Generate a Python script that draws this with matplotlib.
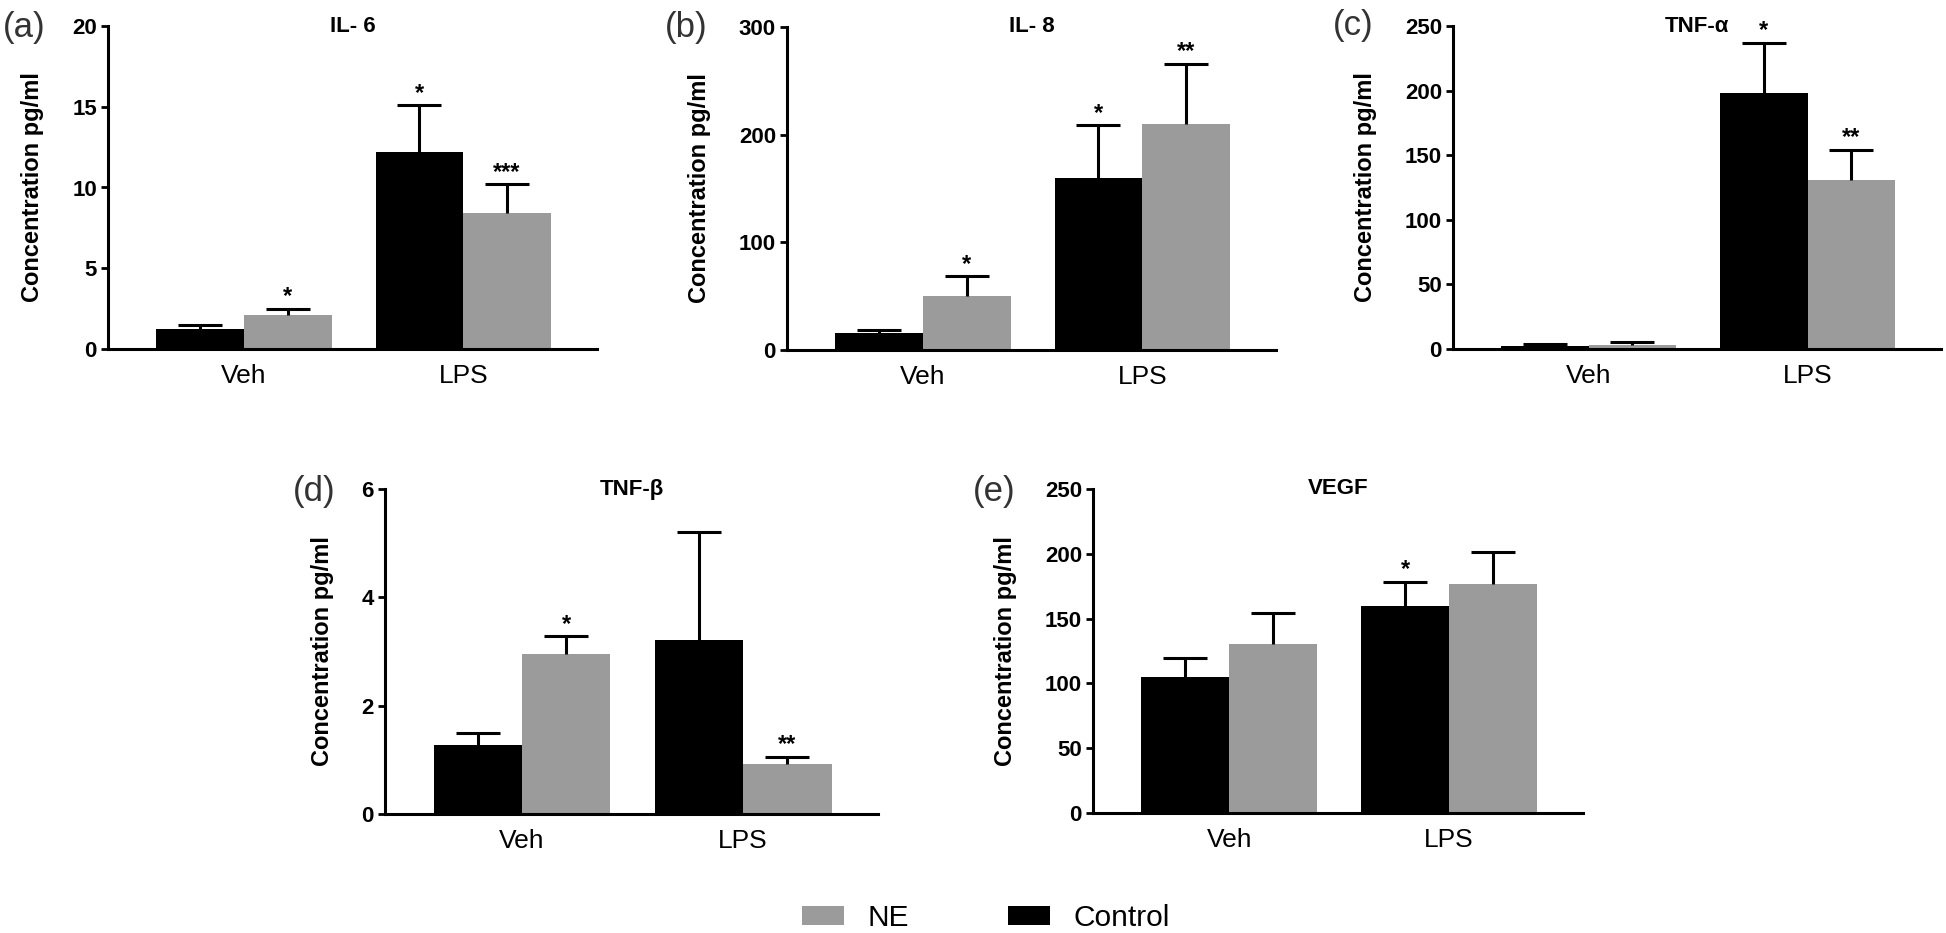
import matplotlib
matplotlib.use('Agg')
import matplotlib.pyplot as plt
import numpy as np

plt.rcParams['font.family'] = ['Liberation Sans', 'DejaVu Sans']

# data
groups = ['Veh', 'LPS']
titles = ['IL- 6', 'IL- 8', 'TNF-α', 'TNF-β', 'VEGF']
panel_tags = ['(a)', '(b)', '(c)', '(d)', '(e)']

ctrl_mean = [[1.24, 12.2], [15.5, 160.2], [2.5, 197.9], [1.28, 3.22], [104.9, 160.0]]
ctrl_err = [[0.23, 2.9], [2.7, 48.6], [1.5, 39.0], [0.21, 1.99], [14.7, 18.2]]
ne_mean = [[2.1, 8.44], [50.4, 210.3], [3.3, 130.7], [2.96, 0.93], [130.4, 176.7]]
ne_err = [[0.4, 1.76], [18.0, 55.7], [2.0, 23.3], [0.32, 0.13], [24.2, 24.7]]
ctrl_stars = [['', '*'], ['', '*'], ['', '*'], ['', ''], ['', '*']]
ne_stars = [['*', '***'], ['*', '**'], ['', '**'], ['*', '**'], ['', '']]

ytop = [20, 300, 250, 6, 250]
ystep = [5, 100, 50, 2, 50]

gray = '#9b9b9b'
W, H = 1946, 933
# axes boxes in pixels: left, top, right, bottom
boxes = [(108, 26, 597, 349), (787, 27, 1276, 350), (1453, 26, 1941, 349),
         (385, 489, 878, 814), (1093, 489, 1583, 813)]
tag_pos = [(3, 27), (665, 27), (1333, 26), (293, 492), (973, 491)]

fig = plt.figure(figsize=(W / 100, H / 100), dpi=100)

x = np.arange(len(groups))
w = 0.4
for i in range(5):
    l, t, r, b = boxes[i]
    ax = fig.add_axes([l / W, 1 - b / H, (r - l) / W, (b - t) / H])
    bc = ax.bar(x - w / 2, ctrl_mean[i], w, color='black', label='Control')
    bn = ax.bar(x + w / 2, ne_mean[i], w, color=gray, label='NE')
    for xs, m, e in [(x - w / 2, ctrl_mean[i], ctrl_err[i]), (x + w / 2, ne_mean[i], ne_err[i])]:
        eb = ax.errorbar(xs, m, yerr=[np.zeros(len(e)), e], fmt='none', ecolor='black',
                         elinewidth=2.2, capsize=15.5, capthick=2.2, clip_on=False)
        # only the upper cap is drawn in the original
        eb[1][0].set_visible(False)
    for xs, m, e, st in [(x - w / 2, ctrl_mean[i], ctrl_err[i], ctrl_stars[i]),
                         (x + w / 2, ne_mean[i], ne_err[i], ne_stars[i])]:
        for k in range(len(xs)):
            if st[k]:
                ax.annotate(st[k], (xs[k], m[k] + e[k]), xytext=(0, 4), textcoords='offset points',
                            ha='center', va='baseline', fontsize=17, fontweight='bold')
    ax.set_xlim(-0.62, 1.61)
    ax.set_ylim(0, ytop[i])
    ax.set_yticks(np.arange(0, ytop[i] + ystep[i] / 2, ystep[i]))
    ax.set_xticks(x)
    ax.set_xticklabels(groups, fontsize=19)
    ax.tick_params(axis='x', length=0, pad=11)
    ax.tick_params(axis='y', length=5, width=2, labelsize=16, pad=3)
    for lab in ax.get_yticklabels():
        lab.set_fontweight('bold')
    ax.spines['top'].set_visible(False)
    ax.spines['right'].set_visible(False)
    ax.spines['left'].set_linewidth(2.2)
    ax.spines['bottom'].set_linewidth(2.2)
    ax.set_ylabel('Concentration pg/ml', fontsize=17, fontweight='bold', labelpad=20)
    ax.text(0.5, 1.0, titles[i], transform=ax.transAxes, ha='center', va='center',
            fontsize=16, fontweight='bold')
    tx, ty = tag_pos[i]
    fig.text(tx / W, 1 - ty / H, panel_tags[i], ha='left', va='center', fontsize=25, color='#333333')

fig.legend(handles=[bn, bc], labels=['NE', 'Control'], loc='center', bbox_to_anchor=(986 / W, 1 - 918 / H),
           ncol=2, frameon=False, fontsize=21.5, handlelength=1.4, handleheight=0.65,
           columnspacing=3.3, handletextpad=0.8)

fig.savefig('out.png', dpi=100)
